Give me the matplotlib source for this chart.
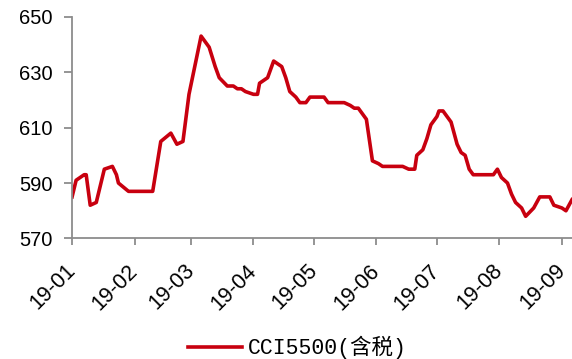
import matplotlib
matplotlib.use("Agg")
import matplotlib.pyplot as plt
import matplotlib.dates as mdates
import pandas as pd

# CCI5500 thermal coal price index (tax included), 2019
dates = [
    "2019-01-01", "2019-01-03", "2019-01-07", "2019-01-08", "2019-01-10",
    "2019-01-13", "2019-01-17", "2019-01-21", "2019-01-23", "2019-01-24",
    "2019-01-29", "2019-02-10", "2019-02-14", "2019-02-19", "2019-02-22",
    "2019-02-25", "2019-02-28", "2019-03-06", "2019-03-10", "2019-03-13",
    "2019-03-15", "2019-03-19", "2019-03-22", "2019-03-24", "2019-03-26",
    "2019-03-28", "2019-04-01", "2019-04-03", "2019-04-04", "2019-04-08",
    "2019-04-11", "2019-04-13", "2019-04-15", "2019-04-17", "2019-04-19",
    "2019-04-22", "2019-04-24", "2019-04-27", "2019-04-29", "2019-05-06",
    "2019-05-08", "2019-05-16", "2019-05-19", "2019-05-21", "2019-05-23",
    "2019-05-25", "2019-05-27", "2019-05-30", "2019-06-02", "2019-06-04",
    "2019-06-14", "2019-06-17", "2019-06-20", "2019-06-21", "2019-06-24",
    "2019-06-26", "2019-06-28", "2019-07-01", "2019-07-02", "2019-07-04",
    "2019-07-08", "2019-07-11", "2019-07-13", "2019-07-15", "2019-07-17",
    "2019-07-19", "2019-07-29", "2019-07-31", "2019-08-02", "2019-08-05",
    "2019-08-07", "2019-08-09", "2019-08-12", "2019-08-14", "2019-08-18",
    "2019-08-21", "2019-08-26", "2019-08-28", "2019-09-01", "2019-09-03",
    "2019-09-06",
]
cci5500 = [
    585, 591, 593, 593, 582,
    583, 595, 596, 593, 590,
    587, 587, 605, 608, 604,
    605, 622, 643, 639, 632,
    628, 625, 625, 624, 624,
    623, 622, 622, 626, 628,
    634, 633, 632, 628, 623,
    621, 619, 619, 621, 621,
    619, 619, 618, 617, 617,
    615, 613, 598, 597, 596,
    596, 595, 595, 600, 602,
    606, 611, 614, 616, 616,
    612, 604, 601, 600, 595,
    593, 593, 595, 592, 590,
    586, 583, 581, 578, 581,
    585, 585, 582, 581, 580,
    584,
]
series_label = "CCI5500(含税)"
y_ticks = [570, 590, 610, 630, 650]

x = pd.to_datetime(dates)

line_color = "#C8000F"
axis_color = "#8C8C8C"

fig = plt.figure(figsize=(5.72, 3.59), dpi=100)
ax = fig.add_axes([0.126, 0.3357, 0.874, 0.6178])

ax.plot(x, cci5500, color=line_color, linewidth=2.6, solid_joinstyle="round",
        label=series_label)

ax.set_ylim(570, 650)
ax.set_yticks(y_ticks)
ax.set_xlim(pd.Timestamp("2019-01-01"), pd.Timestamp("2019-09-06"))
ax.xaxis.set_major_locator(mdates.MonthLocator())
ax.xaxis.set_major_formatter(mdates.DateFormatter("%y-%m"))

for side in ("top", "right"):
    ax.spines[side].set_visible(False)
for side in ("left", "bottom"):
    ax.spines[side].set_color(axis_color)
    ax.spines[side].set_linewidth(1.3)

ax.tick_params(axis="y", direction="out", length=6, width=1.3, color=axis_color,
               labelsize=14.5, pad=8)
ax.tick_params(axis="x", direction="out", length=5, width=1.3, color=axis_color,
               labelsize=15.5, pad=16)
for lab in ax.get_yticklabels() + ax.get_xticklabels():
    lab.set_fontfamily("Liberation Sans")
for lab in ax.get_xticklabels():
    lab.set_rotation(45)
    lab.set_ha("right")
    lab.set_va("center")
    lab.set_rotation_mode("anchor")

leg = fig.legend(loc="center", bbox_to_anchor=(0.52, 0.032), frameon=False,
                 handlelength=2.5, handletextpad=0.25,
                 prop={"family": ["Liberation Mono", "Noto Sans CJK SC"], "size": 15.5})

fig.savefig("out.png", dpi=100)
